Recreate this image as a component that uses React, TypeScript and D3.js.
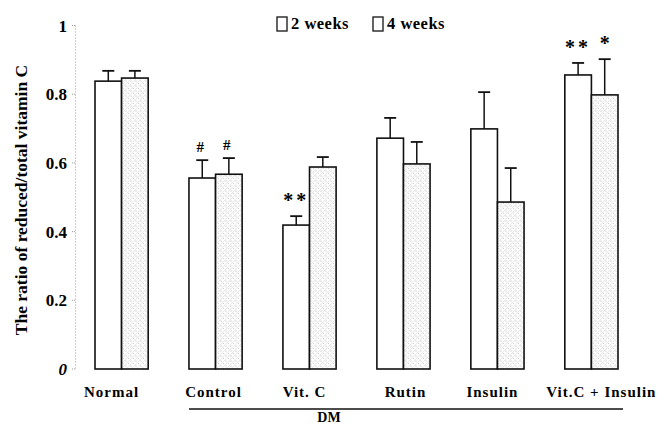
import React from "react";
import * as d3 from "d3";

const groups = ["Normal", "Control", "Vit. C", "Rutin", "Insulin", "Vit.C + Insulin"];
const series = ["2 weeks", "4 weeks"];
const week2 = [0.838, 0.556, 0.419, 0.672, 0.699, 0.856];
const week4 = [0.847, 0.567, 0.588, 0.597, 0.486, 0.798];
const err2 = [0.03, 0.052, 0.026, 0.059, 0.107, 0.035];
const err4 = [0.021, 0.047, 0.029, 0.064, 0.099, 0.104];
const marks2 = ["", "#", "**", "", "", "**"];
const marks4 = ["", "#", "", "", "", "*"];
const yTicks = [0, 0.2, 0.4, 0.6, 0.8, 1];

const W = 667;
const H = 425;
const FONT = "'Liberation Serif', 'DejaVu Serif', serif";

export default function App() {
  const y = d3.scaleLinear().domain([0, 1]).range([369, 25.5]);
  const x = d3.scaleBand<string>().domain(groups).range([95, 618]).paddingInner(0.434).paddingOuter(0);
  const xs = d3.scaleBand<string>().domain(series).range([0, x.bandwidth()]);
  const bw = xs.bandwidth();
  const labelOffsets = [-10, -2, -5, 2, -5, 10];

  return (
    <svg width={W} height={H} style={{ position: "absolute", left: 0, top: 0, background: "#fff" }} fontFamily={FONT}>
      <defs>
        <pattern id="stip" width="5" height="5" patternUnits="userSpaceOnUse">
          <rect width="5" height="5" fill="#fff" />
          <circle cx="1" cy="1" r="0.55" fill="#aaa" />
          <circle cx="3.5" cy="3.5" r="0.5" fill="#bbb" />
          <line x1="0" y1="5" x2="5" y2="0" stroke="#ccc" strokeWidth="0.5" />
        </pattern>
      </defs>
      {/* y axis dotted */}
      <line x1={75.5} x2={75.5} y1={y(1)} y2={y(0)} stroke="#999" strokeWidth={1} strokeDasharray="1,2" />
      {yTicks.map((t) => (
        <g key={t}>
          <line x1={72} x2={75} y1={y(t)} y2={y(t)} stroke="#999" strokeWidth={1} strokeDasharray="1,1" />
          <text x={67} y={y(t) + 6} textAnchor="end" fontSize={17} fontWeight="bold" fontStyle={t === 0 ? "italic" : "normal"}>
            {t === 0 ? "0" : t === 1 ? "1" : d3.format(".1f")(t)}
          </text>
        </g>
      ))}
      <text
        transform={`translate(27,200) rotate(-90)`}
        textAnchor="middle"
        fontSize={17.5}
        fontWeight="bold"
      >
        The ratio of reduced/total vitamin C
      </text>
      {groups.map((g, i) => {
        const x0 = x(g)!;
        const vals = [week2[i], week4[i]];
        const errs = [err2[i], err4[i]];
        const marks = [marks2[i], marks4[i]];
        return (
          <g key={g}>
            {series.map((s, j) => {
              const bx = x0 + xs(s)!;
              const cx = bx + bw / 2;
              const top = y(vals[j]);
              const et = y(vals[j] + errs[j]);
              return (
                <g key={s}>
                  <line x1={cx} x2={cx} y1={top} y2={et} stroke="#111" strokeWidth={1.5} />
                  <line x1={cx - 6} x2={cx + 6} y1={et} y2={et} stroke="#111" strokeWidth={1.8} />
                  <rect
                    x={bx}
                    y={top}
                    width={bw}
                    height={y(0) - top}
                    fill={j === 0 ? "#fff" : "url(#stip)"}
                    stroke="#111"
                    strokeWidth={1.6}
                  />
                  {marks[j] && (
                    <text
                      x={cx + (marks[j] === "#" ? -2 : 0)}
                      y={et - (marks[j] === "#" ? 8 : 9)}
                      textAnchor="middle"
                      fontSize={marks[j] === "#" ? 15 : 20}
                      fontWeight="bold"
                      letterSpacing={marks[j] === "**" ? 3 : 0}
                    >
                      {marks[j]}
                    </text>
                  )}
                </g>
              );
            })}
            <text
              x={x0 + x.bandwidth() / 2 + labelOffsets[i]}
              y={397}
              textAnchor="middle"
              fontSize={15}
              fontWeight="bold"
              letterSpacing={1}
            >
              {g}
            </text>
          </g>
        );
      })}
      {/* DM bracket */}
      <line x1={x(groups[1])!} x2={x(groups[5])! + x.bandwidth() + 5} y1={409} y2={409} stroke="#111" strokeWidth={1.3} />
      <text x={329} y={422} textAnchor="middle" fontSize={14} fontWeight="bold">DM</text>
      {/* legend */}
      {series.map((s, j) => (
        <g key={s} transform={`translate(277,17)`}>
          <g transform={`translate(${j * 96},0)`}>
            <rect x={0} y={0} width={10} height={14} fill="#fff" stroke="#111" strokeWidth={1.3} />
            <text x={14} y={12} fontSize={16.5} fontWeight="bold" letterSpacing={0.5}>{s}</text>
          </g>
        </g>
      ))}
    </svg>
  );
}
